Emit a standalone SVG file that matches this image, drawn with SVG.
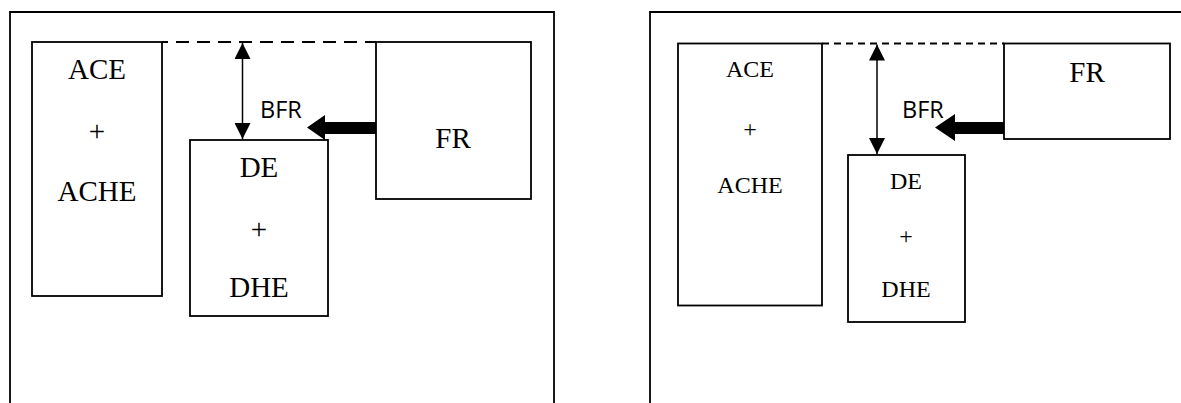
<svg xmlns="http://www.w3.org/2000/svg" width="1181" height="403" viewBox="0 0 1181 403">
  <style>
    .frame { fill: none; stroke: #000; stroke-width: 1.8; }
    .box { fill: #fff; stroke: #000; stroke-width: 1.8; }
    .dash { fill: none; stroke: #000; stroke-width: 1.8; }
    .gap { fill: none; stroke: #000; stroke-width: 1.5; }
    .push { fill: #000; stroke: none; }
    .lbl { font-family: "Liberation Serif", "Times New Roman", serif; fill: #000; text-anchor: middle; }
    .big { font-size: 29px; }
    .small { font-size: 24px; }
    .tag { font-family: "Open Sans", "Liberation Sans", sans-serif; font-size: 23.5px; fill: #000; }
  </style>
  <defs>
    <marker id="tip" viewBox="0 0 16 16" refX="16" refY="8" markerWidth="16" markerHeight="16" markerUnits="userSpaceOnUse" orient="auto-start-reverse">
      <path d="M0,0 L16,8 L0,16 Z" fill="#000"/>
    </marker>
  </defs>

  <rect width="1181" height="403" fill="#fff"/>

  <!-- left panel -->
  <g id="panel-left">
    <path class="frame" d="M10,404 V12 H554 V404"/>
    <g id="left-ace">
      <rect class="box" x="32" y="42" width="130" height="254"/>
      <text class="lbl big" x="97" y="79">ACE</text>
      <text class="lbl big" x="97" y="141">+</text>
      <text class="lbl big" x="97" y="201">ACHE</text>
    </g>
    <g id="left-de">
      <rect class="box" x="190" y="140" width="138" height="176"/>
      <text class="lbl big" x="259" y="177">DE</text>
      <text class="lbl big" x="259" y="239">+</text>
      <text class="lbl big" x="259" y="297">DHE</text>
    </g>
    <g id="left-fr">
      <rect class="box" x="376" y="42" width="155" height="157"/>
      <text class="lbl big" x="453" y="148">FR</text>
    </g>
    <g id="left-connectors">
      <line class="dash" x1="162" y1="42" x2="376" y2="42" stroke-dasharray="13 8" stroke-dashoffset="7"/>
      <line class="gap" x1="242.5" y1="43" x2="242.5" y2="139" marker-start="url(#tip)" marker-end="url(#tip)"/>
      <polygon class="push" points="376,122 325,122 325,115 307,127.5 325,140 325,134 376,134"/>
      <text class="tag" x="260" y="118">BFR</text>
    </g>
  </g>

  <!-- right panel -->
  <g id="panel-right">
    <path class="frame" d="M650,404 V12 H1183"/>
    <g id="right-ace">
      <rect class="box" x="678" y="43.5" width="144" height="262"/>
      <text class="lbl small" x="750" y="77">ACE</text>
      <text class="lbl small" x="750" y="137">+</text>
      <text class="lbl small" x="750" y="193">ACHE</text>
    </g>
    <g id="right-de">
      <rect class="box" x="848" y="155" width="117" height="167"/>
      <text class="lbl small" x="906" y="189">DE</text>
      <text class="lbl small" x="906" y="244">+</text>
      <text class="lbl small" x="906" y="297">DHE</text>
    </g>
    <g id="right-fr">
      <rect class="box" x="1004" y="43.5" width="166" height="95.5"/>
      <text class="lbl big" x="1087" y="82">FR</text>
    </g>
    <g id="right-connectors">
      <line class="dash" x1="822" y1="43.5" x2="1004" y2="43.5" stroke-dasharray="7 5"/>
      <line class="gap" x1="877" y1="44.5" x2="877" y2="154" marker-start="url(#tip)" marker-end="url(#tip)"/>
      <polygon class="push" points="1004,122 955,122 955,114 935,127.5 955,141 955,134 1004,134"/>
      <text class="tag" x="902" y="118">BFR</text>
    </g>
  </g>
</svg>
